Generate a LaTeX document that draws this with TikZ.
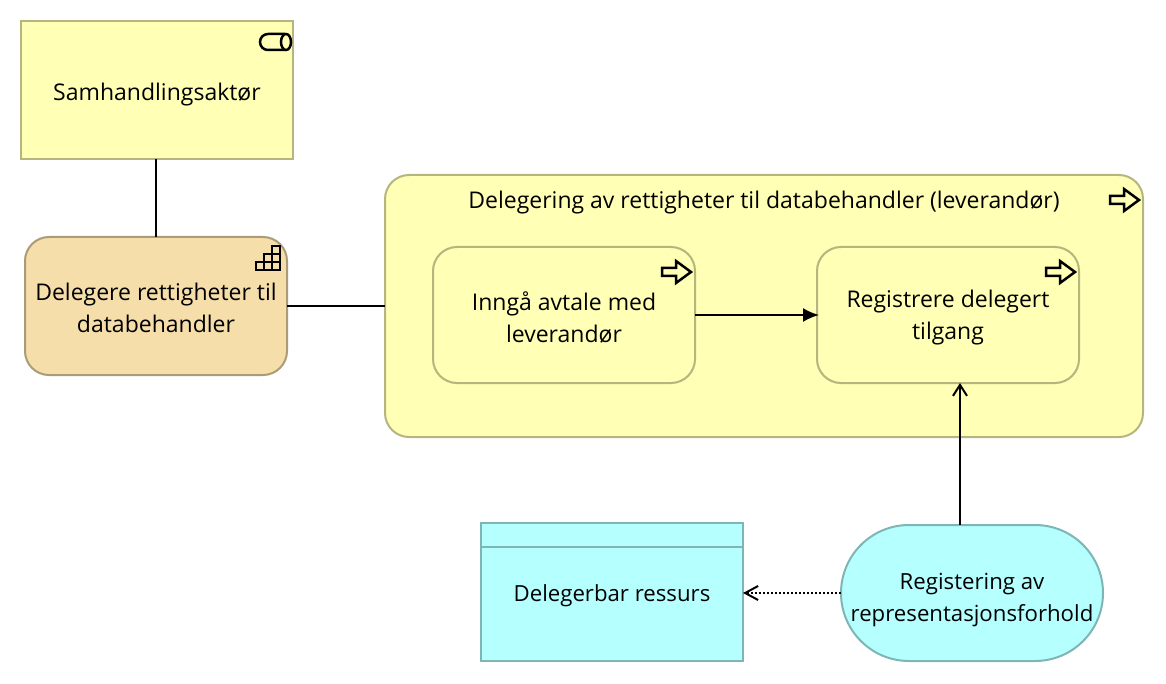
\documentclass[tikz,border=0pt]{standalone}
\usepackage{fontspec}
\setmainfont{Open Sans}
\usetikzlibrary{positioning}
\usetikzlibrary{arrows.meta}
\definecolor{yellowFill}{HTML}{FFFFB5}
\definecolor{yellowLine}{HTML}{B5B57E}
\definecolor{orangeFill}{HTML}{F5DEAA}
\definecolor{orangeLine}{HTML}{AB9B77}
\definecolor{cyanFill}{HTML}{B5FFFF}
\definecolor{cyanLine}{HTML}{7EB5B5}
\tikzset{%
  every element/.style={
    draw,
    line width=2pt,
    outer sep=0pt,
    inner sep=0pt,
    minimum width=262pt,
    minimum height=138pt,
    align=center,
    font=\fontsize{23}{32}\selectfont
  },
  icon/.style={
    draw=black,
    line width=2.5pt
  },
}
% pushes the text of a node down, #1 is the height of its first line
\newcommand{\firstLine}[1]{\rule{0pt}{#1}}
% process arrow, its tip sits at the given point
\newcommand{\processIcon}[1]{%
  \draw[icon,shift={(#1)}] (-4,25) -- (-19,14) -- (-19,21) -- (-33,21) -- (-33,29) -- (-19,29) -- (-19,36) -- cycle;
}

\begin{document}
\begin{tikzpicture}[x=1pt,y=-1pt]
      \tikzstyle{line} = [draw, line width=2pt]
      \useasboundingbox (0,0) rectangle (1166,684);

      % Actor
      \node[every element,fill=yellowFill,draw=yellowLine,minimum width=272pt] (actor) at (157,90) {\firstLine{27.5pt}Samhandlingsaktør};
      \draw[icon,shift={(actor.north east)}] (-8,13) -- (-25,13) arc[start angle=90,end angle=270,radius=8pt] -- (-8,29);
      \draw[icon,shift={(actor.north east)}] (-7,21) ellipse[x radius=5pt,y radius=8pt];

      % Function
      \node[every element,fill=orangeFill,draw=orangeLine,rounded corners=24pt,below = 78pt of actor,xshift=-1pt] (function) {\firstLine{21.5pt}Delegere rettigheter til\\databehandler};
      \draw[icon,shift={(function.north east)}]
        (-15,9) rectangle (-7,17)
        (-23,17) rectangle (-7,25)
        (-31,25) rectangle (-7,33)
        (-15,17) -- (-15,33)
        (-23,25) -- (-23,33);

      % Process
      \node[every element,fill=yellowFill,draw=yellowLine,rounded corners=24pt,minimum width=758pt,minimum height=262pt,right = 98pt of function] (process) {};
      \node[font=\fontsize{23}{32}\selectfont,below = 12pt of process.north] (processTitle) {Delegering av rettigheter til databehandler (leverandør)};
      \processIcon{process.north east}

      % Inner processes
      \node[every element,fill=yellowFill,draw=yellowLine,rounded corners=24pt,minimum height=136pt,right = 48pt of process.west,yshift=-9pt] (agreement) {\firstLine{23.5pt}Inngå avtale med\\leverandør};
      \processIcon{agreement.north east}
      \node[every element,fill=yellowFill,draw=yellowLine,rounded corners=24pt,minimum height=136pt,right = 122pt of agreement] (register) {\firstLine{23.5pt}Registrere delegert\\tilgang};
      \processIcon{register.north east}

      % Service
      \node[every element,font=\fontsize{22.2}{32}\selectfont,fill=cyanFill,draw=cyanLine,rounded corners=68pt,minimum height=136pt,below = 142pt of register,xshift=24pt] (service) {\firstLine{30pt}Registering av\\representasjonsforhold};

      % Data object
      \node[every element,font=\fontsize{22.2}{32}\selectfont,fill=cyanFill,draw=cyanLine,left = 98pt of service,yshift=1pt] (data) {\firstLine{23.5pt}Delegerbar ressurs};
      \draw[cyanLine,line width=2pt] ([yshift=-24pt]data.north west) -- ([yshift=-24pt]data.north east);

      % function -> actor & function -> process
      \path[line] (function.north) -- (function.north |- actor.south);
      \path[line] (function.east) -- (function.east -| process.west);

      % agreement -> register
      \path[line,shorten >=-2pt,-{Latex[length=16pt,width=14pt]}] (agreement) -- (register);

      % service -> register & service -> data
      \path[line,-{Straight Barb[length=11pt,width=14pt]}] ([xshift=-12pt]service.north) -- ([xshift=-12pt]service.north |- register.south);
      \path[line,dash pattern=on 2pt off 2pt,-{Straight Barb[length=13pt,width=14pt]}] (service.west) -- (service.west -| data.east);
    \end{tikzpicture}
\end{document}
